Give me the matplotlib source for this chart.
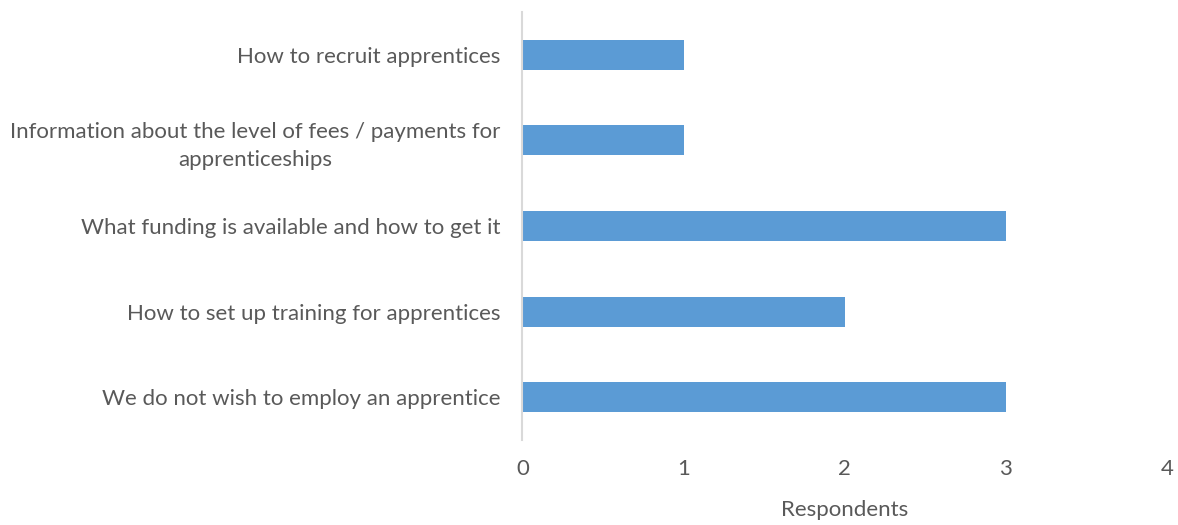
import matplotlib.pyplot as plt

categorias = [
    "We do not wish to employ an apprentice",
    "How to set up training for apprentices",
    "What funding is available and how to get it",
    "Information about the level of fees / payments for\napprenticeships",
    "How to recruit apprentices",
]
respuestas = [3, 2, 3, 1, 1]
ticks_x = [0, 1, 2, 3, 4]

gris = "#595959"
plt.rcParams['font.family'] = ['Lato', 'DejaVu Sans']

fig = plt.figure(figsize=(11.78, 5.25), dpi=100)
ax = fig.add_axes([0.4435, 0.162, 0.547, 0.815])

pos = range(len(categorias))
ax.barh(pos, respuestas, height=0.35, color='#5B9BD5')

ax.set_xlim(0, 4)
ax.set_ylim(-0.5, len(categorias) - 0.5)
ax.set_xticks(ticks_x)
ax.set_yticks(list(pos))
ax.set_yticklabels(categorias, linespacing=1.45)

for lado in ['top', 'right', 'bottom']:
    ax.spines[lado].set_visible(False)
ax.spines['left'].set_color('#D9D9D9')
ax.spines['left'].set_linewidth(1.5)

ax.tick_params(axis='y', length=0, pad=16, labelsize=16, labelcolor=gris)
ax.tick_params(axis='x', length=0, pad=14, labelsize=16, labelcolor=gris)
# texto de dos lineas centrado entre si
for lbl in ax.get_yticklabels():
    lbl.set_multialignment('center')

ax.set_xlabel('Respondents', fontsize=16, color=gris, labelpad=15)

plt.savefig('out.png')
